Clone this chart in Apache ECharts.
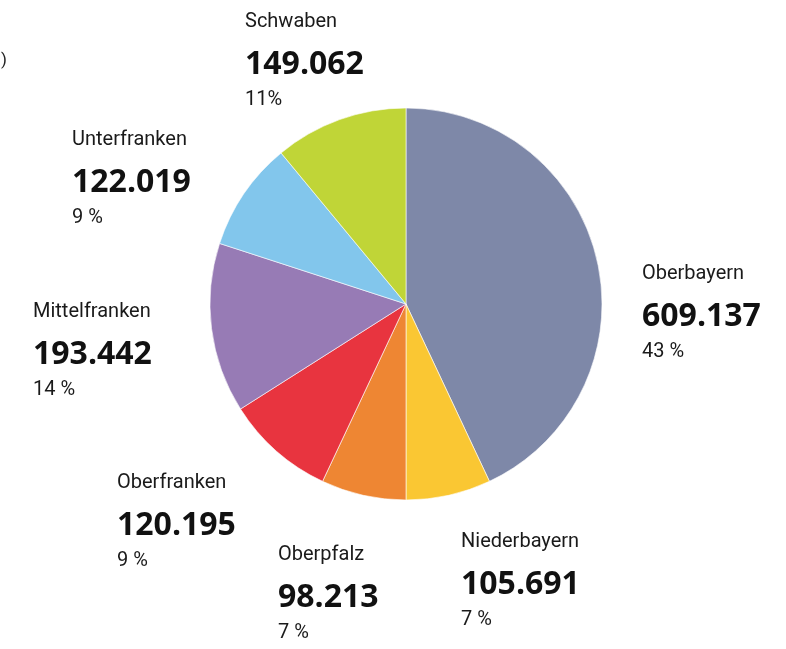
<!DOCTYPE html>
<html><head><meta charset="utf-8">
<script src="https://cdn.jsdelivr.net/npm/echarts@6/dist/echarts.min.js"></script>
<style>html,body{margin:0;padding:0;background:#fff;}#c{width:786px;height:649px;}</style>
</head><body><div id="c"></div>
<script>
const regions = ['Oberbayern','Niederbayern','Oberpfalz','Oberfranken','Mittelfranken','Unterfranken','Schwaben'];
const valueLabels = ['609.137','105.691','98.213','120.195','193.442','122.019','149.062'];
const sharePct = [43,7,7,9,14,9,11];
const pctLabels = ['43 %','7 %','7 %','9 %','14 %','9 %','11%'];
const colors = ['#7E88A8','#FAC733','#EE8633','#E8343F','#977BB5','#82C6EC','#C0D537'];

const labelPos = [[642,254],[461,522],[278,535],[117,463],[33,292],[72,120],[245,2]];
const FONT = 'Roboto, "Open Sans", sans-serif';
const VFONT = '"Open Sans", "Noto Sans", sans-serif';

const chart = echarts.init(document.getElementById('c'), null, {renderer:'canvas'});
chart.setOption({
  animation:false,
  backgroundColor:'#fff',
  graphic:[{type:'text', left:1, top:52, style:{text:')', font:'17px '+FONT, fill:'#222'}}],
  series:[{
    type:'pie',
    center:[406,304],
    radius:196,
    startAngle:90,
    clockwise:true,
    data: regions.map((r,i)=>({name:r, value:sharePct[i], itemStyle:{color:colors[i]}})),
    itemStyle:{borderColor:'#fff', borderWidth:0.6},
    emphasis:{disabled:true},
    labelLine:{show:false},
    label:{
      show:true,
      position:'outside',
      formatter:(p)=>'{n|'+p.name+'}\n{v|'+valueLabels[p.dataIndex]+'}\n{p|'+pctLabels[p.dataIndex]+'}',
      rich:{
        n:{fontFamily:FONT, fontSize:20, color:'#1a1a1a', lineHeight:40},
        v:{fontFamily:VFONT, fontSize:32, fontWeight:'bold', color:'#111', lineHeight:46},
        p:{fontFamily:FONT, fontSize:20, color:'#1a1a1a', lineHeight:24}
      }
    },
    labelLayout:(params)=>({x:labelPos[params.dataIndex][0], y:labelPos[params.dataIndex][1], align:'left', verticalAlign:'top'})
  }]
});
</script></body></html>
